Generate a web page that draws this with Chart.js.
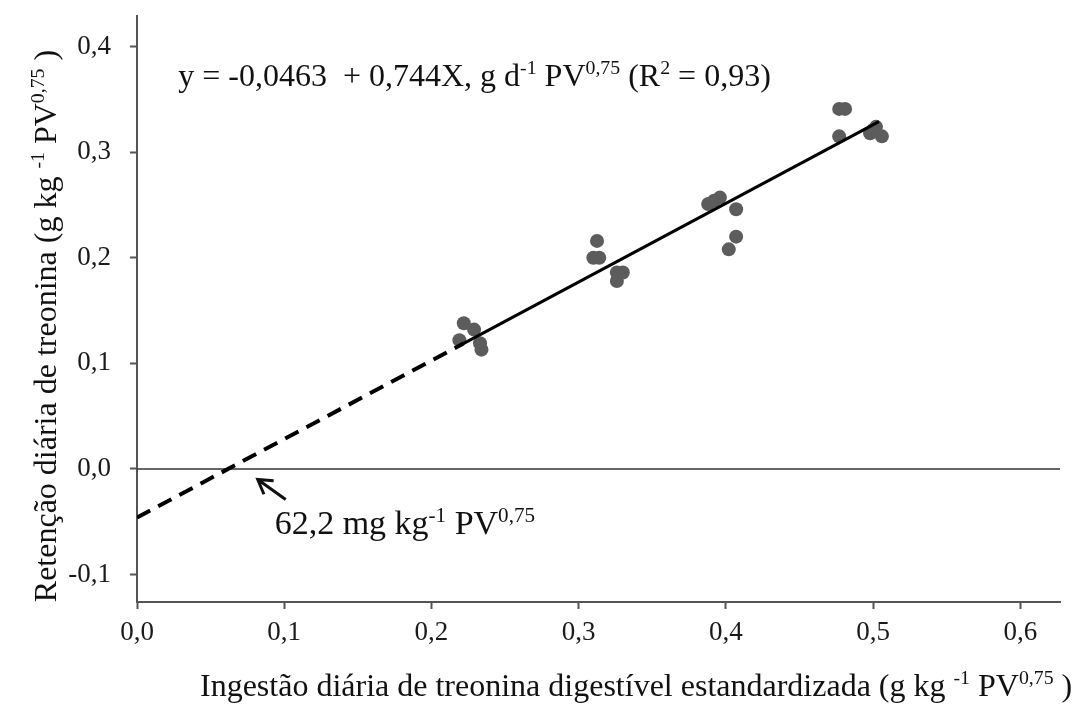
<!DOCTYPE html>
<html>
<head>
<meta charset="utf-8">
<script src="https://cdn.jsdelivr.net/npm/chart.js@4.4.0/dist/chart.umd.min.js"></script>
<style>
  html, body { margin: 0; padding: 0; background: #fff; }
  #wrap { width: 1081px; height: 713px; }
</style>
</head>
<body>
<div id="wrap"><canvas id="scatter-chart" width="1081" height="713"></canvas></div>
<script>
// observed points (ingestao, retencao)
var obsX = [0.219, 0.222, 0.229, 0.233, 0.234,
            0.3125, 0.310, 0.314, 0.326, 0.330, 0.326,
            0.388, 0.392, 0.396, 0.407, 0.407, 0.402,
            0.477, 0.481, 0.477, 0.498, 0.502, 0.506, 0.500];
var obsY = [0.122, 0.138, 0.132, 0.119, 0.113,
            0.216, 0.200, 0.200, 0.186, 0.186, 0.178,
            0.251, 0.254, 0.257, 0.246, 0.220, 0.208,
            0.341, 0.341, 0.315, 0.318, 0.324, 0.315, 0.321];

// fitted line y = -0,0463 + 0,744X
var dashX = [0.0, 0.222];
var dashY = [-0.046, 0.119];
var solidX = [0.222, 0.504];
var solidY = [0.119, 0.329];

var xTicks = [0, 0.1, 0.2, 0.3, 0.4, 0.5, 0.6];
var yTicks = [-0.1, 0, 0.1, 0.2, 0.3, 0.4];
var xMin = 0, xMax = 0.627;
var yMin = -0.126, yMax = 0.429;

function pts(xs, ys) {
	return xs.map(function(x, i) { return {x: x, y: ys[i]}; });
}
function fmt(v) {
	return v.toFixed(1).replace('.', ',');
}

var serif = '"Liberation Serif", "Times New Roman", serif';

// draws text with superscript parts
function richText(ctx, parts, x, y, size, rotate) {
	ctx.save();
	ctx.translate(x, y);
	if (rotate) ctx.rotate(-Math.PI / 2);
	ctx.fillStyle = '#111';
	ctx.textBaseline = 'alphabetic';
	var total = 0;
	parts.forEach(function(p) {
		ctx.font = (p.sup ? size * 0.62 : size) + 'px ' + serif;
		total += ctx.measureText(p.t).width;
	});
	var cx = rotate ? -total / 2 : 0;
	parts.forEach(function(p) {
		ctx.font = (p.sup ? size * 0.62 : size) + 'px ' + serif;
		ctx.fillText(p.t, cx, p.sup ? -size * 0.38 : 0);
		cx += ctx.measureText(p.t).width;
	});
	ctx.restore();
	return total;
}

var notes = {
	id: 'notes',
	afterDraw: function(chart) {
		var ctx = chart.ctx;
		var xs = chart.scales.x, ys = chart.scales.y;

		richText(ctx, [
			{t: 'y = -0,0463  + 0,744X, g d'}, {t: '-1', sup: true},
			{t: ' PV'}, {t: '0,75', sup: true},
			{t: ' (R'}, {t: '2', sup: true}, {t: ' = 0,93)'}
		], xs.getPixelForValue(0.028), ys.getPixelForValue(0.363), 32);

		// arrow to the intercept
		var tipX = xs.getPixelForValue(0.082), tipY = ys.getPixelForValue(-0.010);
		var tailX = xs.getPixelForValue(0.101), tailY = ys.getPixelForValue(-0.029);
		ctx.save();
		ctx.strokeStyle = '#111';
		ctx.lineWidth = 3;
		ctx.beginPath();
		ctx.moveTo(tailX, tailY);
		ctx.lineTo(tipX, tipY);
		var a = Math.atan2(tipY - tailY, tipX - tailX);
		ctx.moveTo(tipX - 16 * Math.cos(a - 0.55), tipY - 16 * Math.sin(a - 0.55));
		ctx.lineTo(tipX, tipY);
		ctx.lineTo(tipX - 16 * Math.cos(a + 0.55), tipY - 16 * Math.sin(a + 0.55));
		ctx.stroke();
		ctx.restore();

		richText(ctx, [
			{t: '62,2 mg kg'}, {t: '-1', sup: true}, {t: ' PV'}, {t: '0,75', sup: true}
		], xs.getPixelForValue(0.0935), ys.getPixelForValue(-0.062), 34);

		// axis titles
		richText(ctx, [
			{t: 'Retenção diária de treonina (g kg '}, {t: '-1', sup: true},
			{t: ' PV'}, {t: '0,75', sup: true}, {t: ' )'}
		], 56, 326, 32, true);

		richText(ctx, [
			{t: 'Ingestão diária de treonina digestível estandardizada (g kg '}, {t: '-1', sup: true},
			{t: ' PV'}, {t: '0,75', sup: true}, {t: ' )'}
		], 200, 696, 32);
	}
};

new Chart(document.getElementById('scatter-chart'), {
	type: 'scatter',
	data: {
		datasets: [{
			label: 'Observado',
			data: pts(obsX, obsY),
			backgroundColor: '#5c5c5c',
			borderWidth: 0,
			pointRadius: 7,
			order: 2
		}, {
			label: 'Zero',
			type: 'line',
			data: pts([xMin, xMax], [0, 0]),
			borderColor: '#333',
			borderWidth: 1.5,
			pointRadius: 0,
			order: 3
		}, {
			label: 'Extrapolado',
			type: 'line',
			data: pts(dashX, dashY),
			borderColor: '#000',
			borderWidth: 4,
			borderDash: [15, 9],
			pointRadius: 0,
			order: 1
		}, {
			label: 'Ajuste',
			type: 'line',
			data: pts(solidX, solidY),
			borderColor: '#000',
			borderWidth: 3,
			pointRadius: 0,
			order: 1
		}]
	},
	options: {
		responsive: false,
		animation: false,
		layout: { padding: { left: 0, right: 21, top: 16, bottom: 0 } },
		plugins: {
			legend: { display: false },
			tooltip: { enabled: false },
			title: { display: false }
		},
		scales: {
			x: {
				type: 'linear',
				min: xMin,
				max: xMax,
				afterBuildTicks: function(s) { s.ticks = xTicks.map(function(v) { return {value: v}; }); },
				afterFit: function(s) { s.height = 111; s.paddingLeft = 0; s.paddingRight = 0; },
				border: { color: '#555', width: 2 },
				grid: { display: true, drawOnChartArea: false, tickLength: 7, color: '#555', tickWidth: 2 },
				ticks: {
					color: '#1a1a1a',
					padding: 8,
					maxRotation: 0,
					font: { family: serif, size: 27 },
					callback: function(v) { return fmt(v); }
				}
			},
			y: {
				type: 'linear',
				min: yMin,
				max: yMax,
				afterBuildTicks: function(s) { s.ticks = yTicks.map(function(v) { return {value: v}; }); },
				afterFit: function(s) { s.width = 137; s.paddingTop = 0; s.paddingBottom = 0; },
				border: { color: '#555', width: 2 },
				grid: { display: true, drawOnChartArea: false, tickLength: 7, color: '#555', tickWidth: 2 },
				ticks: {
					color: '#1a1a1a',
					padding: 19,
					font: { family: serif, size: 27 },
					callback: function(v) { return fmt(v); }
				}
			}
		}
	},
	plugins: [notes]
});
</script>
</body>
</html>
